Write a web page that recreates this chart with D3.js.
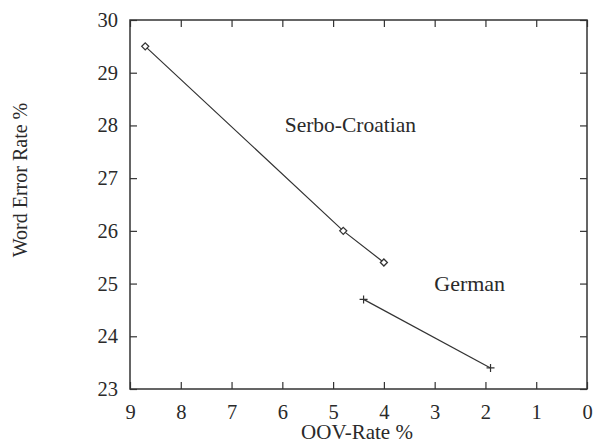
<!DOCTYPE html>
<html>
<head>
<meta charset="utf-8">
<script src="https://cdn.jsdelivr.net/npm/d3@7"></script>
<style>
  body { margin: 0; background: #fff; }
  text { font-family: "Liberation Serif", "Times New Roman", serif; fill: #2a2a2a; }
</style>
</head>
<body>
<div id="chart"></div>
<script>
// Data
const serboOov = [8.7, 4.8, 4.0];
const serboWer = [29.5, 26.0, 25.4];
const germanOov = [4.4, 1.9];
const germanWer = [24.7, 23.4];
const xTicks = [9, 8, 7, 6, 5, 4, 3, 2, 1, 0];
const yTicks = [23, 24, 25, 26, 27, 28, 29, 30];

// Dimensions
const width = 594, height = 444;
const margin = { top: 20, right: 7, bottom: 55, left: 130 };
const innerW = width - margin.left - margin.right;
const innerH = height - margin.top - margin.bottom;

const svg = d3.select("#chart")
    .append("svg")
    .attr("width", width)
    .attr("height", height);

const g = svg.append("g")
    .attr("transform", `translate(${margin.left},${margin.top})`);

// Scales (x runs backwards, 9 on the left)
const x = d3.scaleLinear().domain([9, 0]).range([0, innerW]);
const y = d3.scaleLinear().domain([23, 30]).range([innerH, 0]);

const ink = "#333";
const tickLen = 7;

// Ticks on all four sides, pointing inward
const bottomAxis = g.append("g")
    .attr("transform", `translate(0,${innerH})`)
    .call(d3.axisBottom(x).tickValues(xTicks).tickSizeInner(-tickLen).tickSizeOuter(0).tickPadding(15).tickFormat(d3.format("d")));
const topAxis = g.append("g")
    .call(d3.axisTop(x).tickValues(xTicks).tickSizeInner(-tickLen).tickSizeOuter(0).tickFormat(""));
const leftAxis = g.append("g")
    .call(d3.axisLeft(y).tickValues(yTicks).tickSizeInner(-tickLen).tickSizeOuter(0).tickPadding(12).tickFormat(d3.format("d")));
const rightAxis = g.append("g")
    .attr("transform", `translate(${innerW},0)`)
    .call(d3.axisRight(y).tickValues(yTicks).tickSizeInner(-tickLen).tickSizeOuter(0).tickFormat(""));

[bottomAxis, topAxis, leftAxis, rightAxis].forEach(a => {
    a.select(".domain").remove();
    a.selectAll(".tick line").attr("stroke", ink).attr("stroke-width", 1.2);
    a.selectAll(".tick text").style("font-size", "20.5px").attr("fill", "#2a2a2a");
});

// Frame
g.append("rect")
    .attr("x", 0).attr("y", 0)
    .attr("width", innerW).attr("height", innerH)
    .attr("fill", "none")
    .attr("stroke", ink)
    .attr("stroke-width", 1.5);

// Lines
const serbo = serboOov.map((d, i) => ({ x: d, y: serboWer[i] }));
const german = germanOov.map((d, i) => ({ x: d, y: germanWer[i] }));
const line = d3.line().x(d => x(d.x)).y(d => y(d.y));

[serbo, german].forEach(s => {
    g.append("path")
        .datum(s)
        .attr("d", line)
        .attr("fill", "none")
        .attr("stroke", ink)
        .attr("stroke-width", 1.2);
});

// Markers: diamonds for Serbo-Croatian, plus signs for German
g.selectAll(".diamond")
    .data(serbo)
    .enter().append("path")
    .attr("class", "diamond")
    .attr("transform", d => `translate(${x(d.x)},${y(d.y)})`)
    .attr("d", "M0,-3.5L3.5,0L0,3.5L-3.5,0Z")
    .attr("fill", "#fff")
    .attr("stroke", ink)
    .attr("stroke-width", 1.3);

g.selectAll(".plus")
    .data(german)
    .enter().append("path")
    .attr("class", "plus")
    .attr("transform", d => `translate(${x(d.x)},${y(d.y)})`)
    .attr("d", "M-4,0H4M0,-4V4")
    .attr("stroke", ink)
    .attr("stroke-width", 1.2);

// Series labels
g.append("text")
    .attr("x", x(4.66)).attr("y", 132 - margin.top)
    .attr("text-anchor", "middle")
    .style("font-size", "21.5px")
    .text("Serbo-Croatian");

g.append("text")
    .attr("x", x(2.31)).attr("y", 291 - margin.top)
    .attr("text-anchor", "middle")
    .style("font-size", "22px")
    .text("German");

// Axis titles
svg.append("text")
    .attr("x", 357).attr("y", 439)
    .attr("text-anchor", "middle")
    .style("font-size", "21px")
    .text("OOV-Rate %");

svg.append("text")
    .attr("transform", "translate(27,180)rotate(-90)")
    .attr("text-anchor", "middle")
    .style("font-size", "20px")
    .text("Word Error Rate %");
</script>
</body>
</html>
